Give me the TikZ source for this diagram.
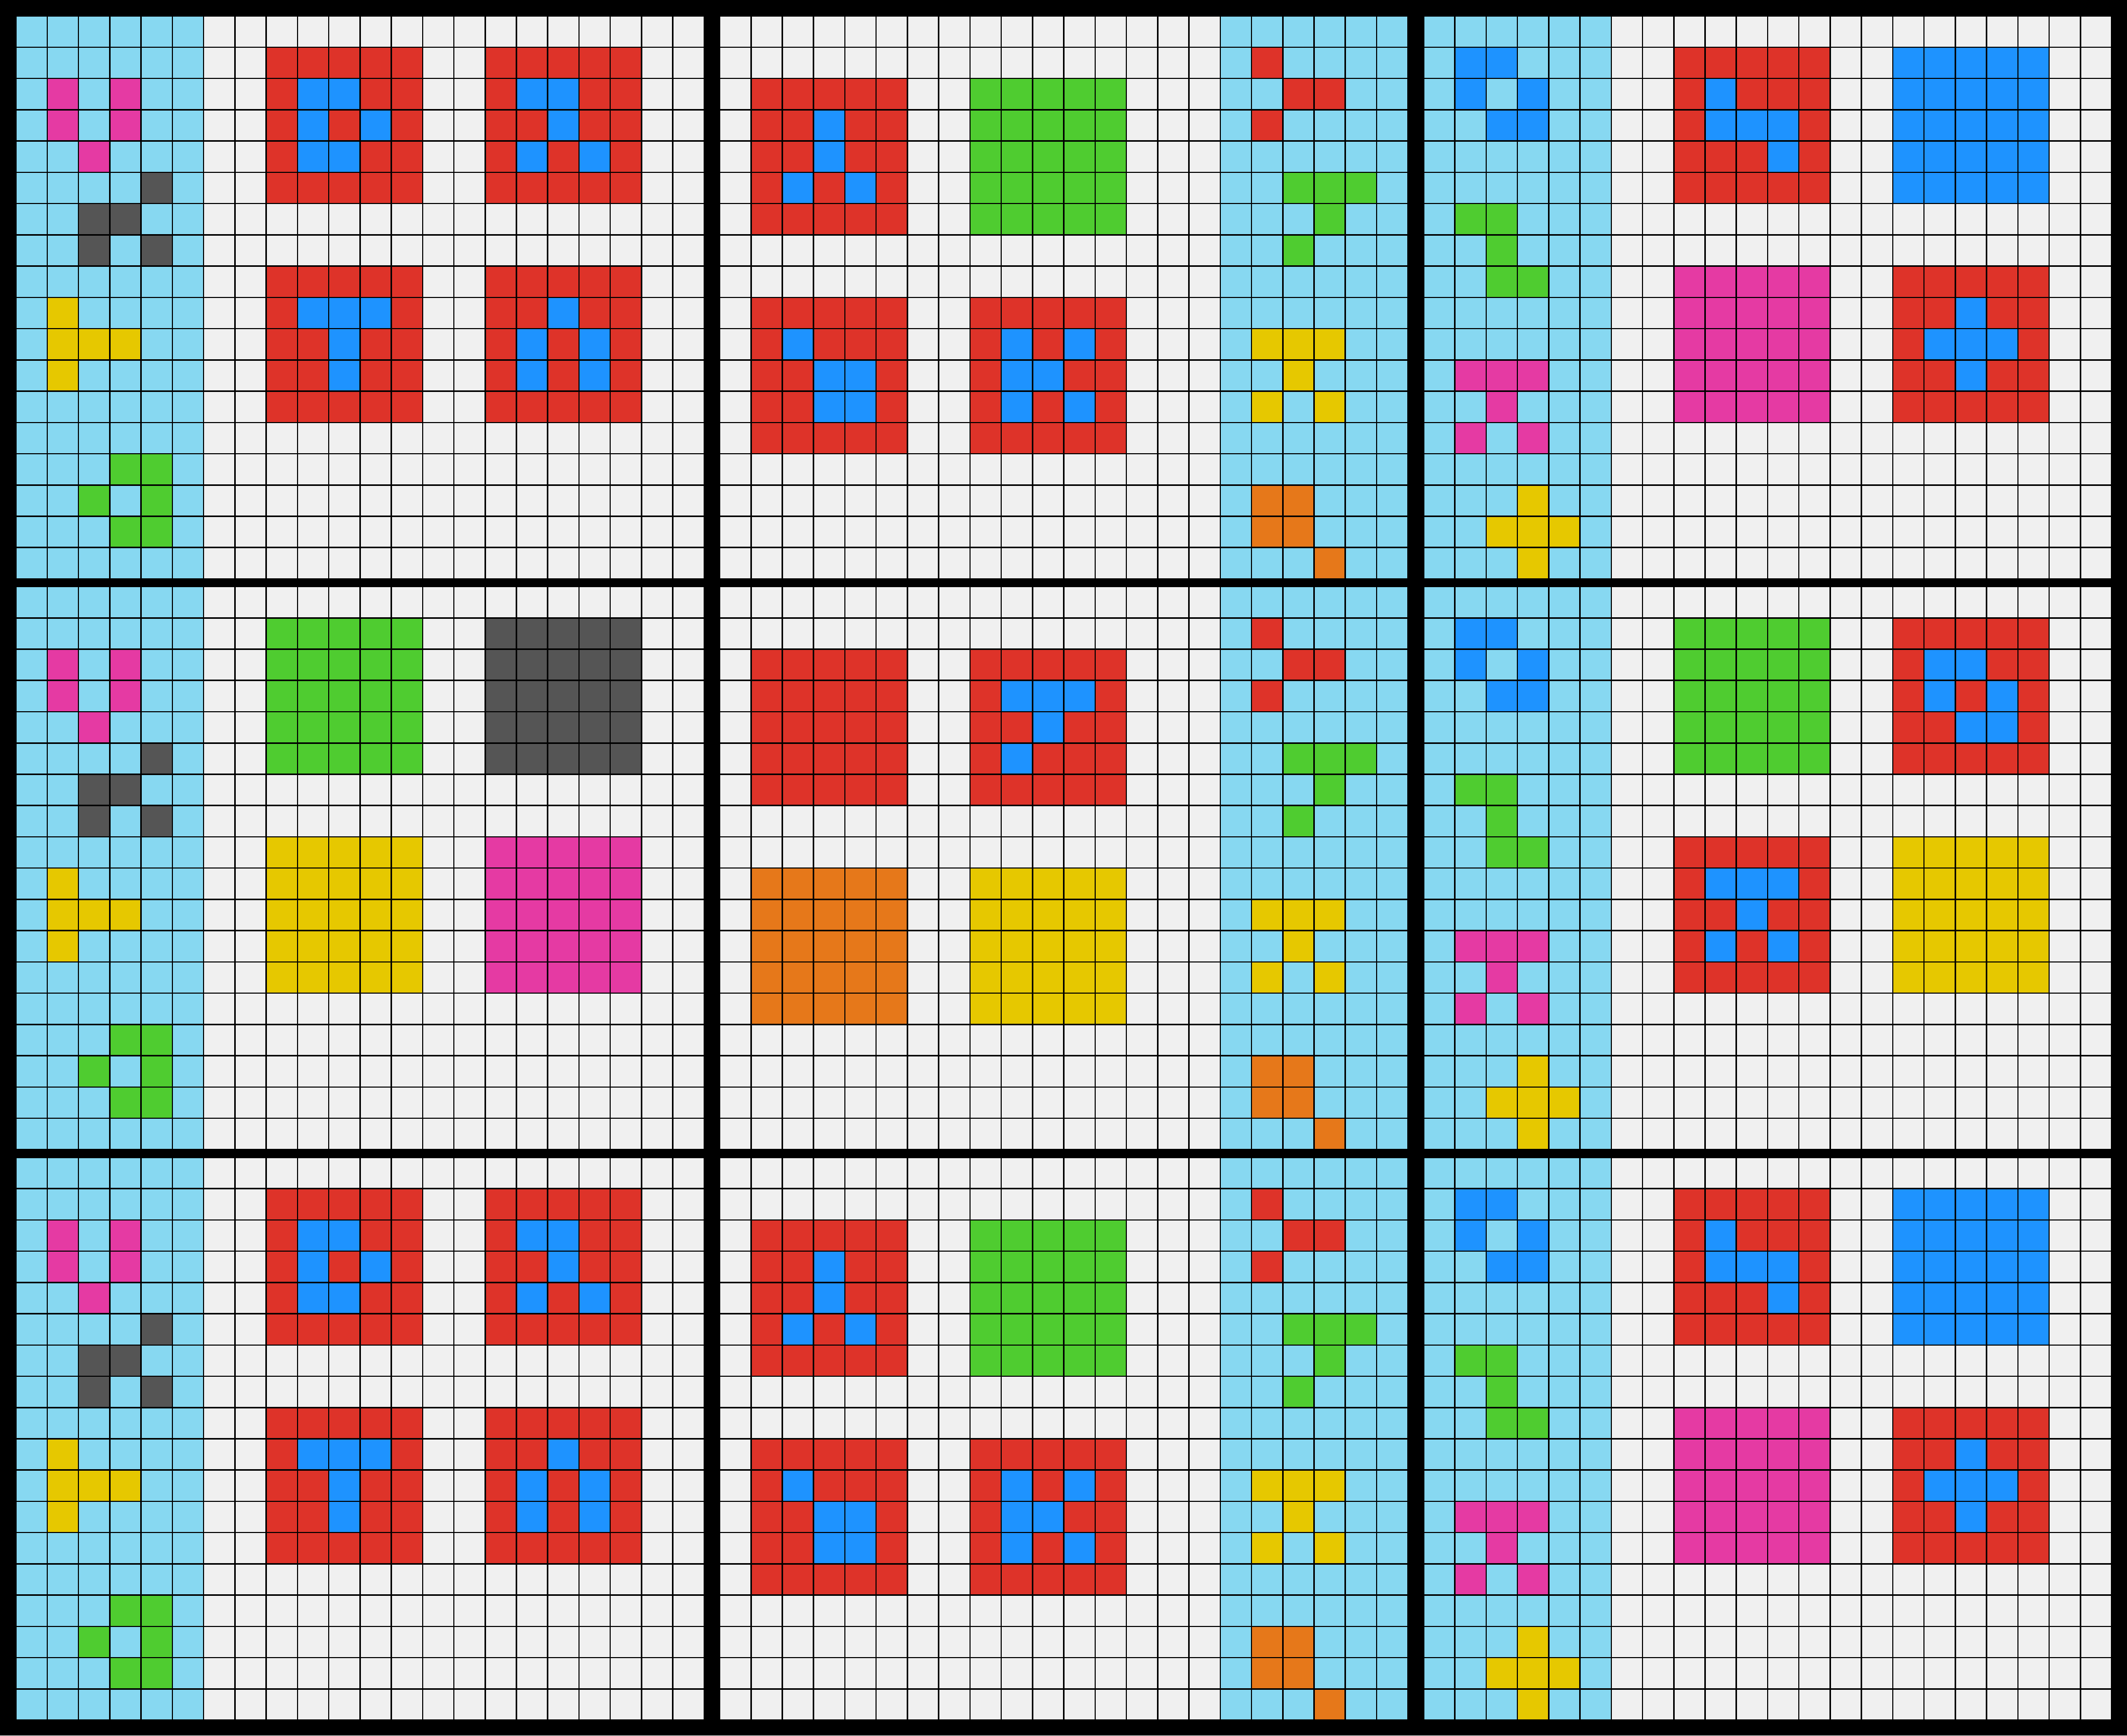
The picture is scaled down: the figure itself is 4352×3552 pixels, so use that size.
\documentclass[tikz,border=0pt]{standalone}
\definecolor{cola}{HTML}{87D8F1}
\definecolor{colw}{HTML}{F0F0F0}
\definecolor{colr}{HTML}{DE3329}
\definecolor{colb}{HTML}{1E93FF}
\definecolor{colg}{HTML}{4FCC30}
\definecolor{coly}{HTML}{E6C800}
\definecolor{colk}{HTML}{555555}
\definecolor{colp}{HTML}{E53AA3}
\definecolor{colo}{HTML}{E6781A}
\newcount\colidx
\def\gridrow#1#2#3{\colidx=0 \def\rx{#1}\def\ry{#2}\expandafter\gridparse#3\relax}
\def\gridparse#1{\ifx#1\relax\else\fill[col#1] ({\rx+64*\the\colidx},\ry) rectangle ++(61.3,61.3);\advance\colidx by 1 \expandafter\gridparse\fi}
\newcommand\panel[3]{\foreach \s [count=\i from 0] in #3 {\pgfmathsetmacro\rowy{#2+64*\i}\gridrow{#1}{\rowy}{\s}}}
% left panels
\def\PAone{{aaaaaa wwww wwww wwww wwww},
{aaaaaa ww rrrrr ww rrrrr ww},
{apapaa ww rbbrr ww rbbrr ww},
{apapaa ww rbrbr ww rrbrr ww},
{aapaaa ww rbbrr ww rbrbr ww},
{aaaaka ww rrrrr ww rrrrr ww},
{aakkaa wwww wwww wwww wwww},
{aakaka wwww wwww wwww wwww},
{aaaaaa ww rrrrr ww rrrrr ww},
{ayaaaa ww rbbbr ww rrbrr ww},
{ayyyaa ww rrbrr ww rbrbr ww},
{ayaaaa ww rrbrr ww rbrbr ww},
{aaaaaa ww rrrrr ww rrrrr ww},
{aaaaaa wwww wwww wwww wwww},
{aaagga wwww wwww wwww wwww},
{aagaga wwww wwww wwww wwww},
{aaagga wwww wwww wwww wwww},
{aaaaaa wwww wwww wwww wwww}}
\def\PAtwo{{aaaaaa wwww wwww wwww wwww},
{aaaaaa ww ggggg ww kkkkk ww},
{apapaa ww ggggg ww kkkkk ww},
{apapaa ww ggggg ww kkkkk ww},
{aapaaa ww ggggg ww kkkkk ww},
{aaaaka ww ggggg ww kkkkk ww},
{aakkaa wwww wwww wwww wwww},
{aakaka wwww wwww wwww wwww},
{aaaaaa ww yyyyy ww ppppp ww},
{ayaaaa ww yyyyy ww ppppp ww},
{ayyyaa ww yyyyy ww ppppp ww},
{ayaaaa ww yyyyy ww ppppp ww},
{aaaaaa ww yyyyy ww ppppp ww},
{aaaaaa wwww wwww wwww wwww},
{aaagga wwww wwww wwww wwww},
{aagaga wwww wwww wwww wwww},
{aaagga wwww wwww wwww wwww},
{aaaaaa wwww wwww wwww wwww}}
% middle panels
\def\PBone{{wwww wwww wwww wwww aaaaaa},
{wwww wwww wwww wwww araaaa},
{w rrrrr ww ggggg www aarraa},
{w rrbrr ww ggggg www araaaa},
{w rrbrr ww ggggg www aaaaaa},
{w rbrbr ww ggggg www aaggga},
{w rrrrr ww ggggg www aaagaa},
{wwww wwww wwww wwww aagaaa},
{wwww wwww wwww wwww aaaaaa},
{w rrrrr ww rrrrr www aaaaaa},
{w rbrrr ww rbrbr www ayyyaa},
{w rrbbr ww rbbrr www aayaaa},
{w rrbbr ww rbrbr www ayayaa},
{w rrrrr ww rrrrr www aaaaaa},
{wwww wwww wwww wwww aaaaaa},
{wwww wwww wwww wwww aooaaa},
{wwww wwww wwww wwww aooaaa},
{wwww wwww wwww wwww aaaoaa}}
\def\PBtwo{{wwww wwww wwww wwww aaaaaa},
{wwww wwww wwww wwww araaaa},
{w rrrrr ww rrrrr www aarraa},
{w rrrrr ww rbbbr www araaaa},
{w rrrrr ww rrbrr www aaaaaa},
{w rrrrr ww rbrrr www aaggga},
{w rrrrr ww rrrrr www aaagaa},
{wwww wwww wwww wwww aagaaa},
{wwww wwww wwww wwww aaaaaa},
{w ooooo ww yyyyy www aaaaaa},
{w ooooo ww yyyyy www ayyyaa},
{w ooooo ww yyyyy www aayaaa},
{w ooooo ww yyyyy www ayayaa},
{w ooooo ww yyyyy www aaaaaa},
{wwww wwww wwww wwww aaaaaa},
{wwww wwww wwww wwww aooaaa},
{wwww wwww wwww wwww aooaaa},
{wwww wwww wwww wwww aaaoaa}}
% right panels
\def\PCone{{aaaaaa wwww wwww wwww wwww},
{abbaaa ww rrrrr ww bbbbb ww},
{ababaa ww rbrrr ww bbbbb ww},
{aabbaa ww rbbbr ww bbbbb ww},
{aaaaaa ww rrrbr ww bbbbb ww},
{aaaaaa ww rrrrr ww bbbbb ww},
{aggaaa wwww wwww wwww wwww},
{aagaaa wwww wwww wwww wwww},
{aaggaa ww ppppp ww rrrrr ww},
{aaaaaa ww ppppp ww rrbrr ww},
{aaaaaa ww ppppp ww rbbbr ww},
{apppaa ww ppppp ww rrbrr ww},
{aapaaa ww ppppp ww rrrrr ww},
{apapaa wwww wwww wwww wwww},
{aaaaaa wwww wwww wwww wwww},
{aaayaa wwww wwww wwww wwww},
{aayyya wwww wwww wwww wwww},
{aaayaa wwww wwww wwww wwww}}
\def\PCtwo{{aaaaaa wwww wwww wwww wwww},
{abbaaa ww ggggg ww rrrrr ww},
{ababaa ww ggggg ww rbbrr ww},
{aabbaa ww ggggg ww rbrbr ww},
{aaaaaa ww ggggg ww rrbbr ww},
{aaaaaa ww ggggg ww rrrrr ww},
{aggaaa wwww wwww wwww wwww},
{aagaaa wwww wwww wwww wwww},
{aaggaa ww rrrrr ww yyyyy ww},
{aaaaaa ww rbbbr ww yyyyy ww},
{aaaaaa ww rrbrr ww yyyyy ww},
{apppaa ww rbrbr ww yyyyy ww},
{aapaaa ww rrrrr ww yyyyy ww},
{apapaa wwww wwww wwww wwww},
{aaaaaa wwww wwww wwww wwww},
{aaayaa wwww wwww wwww wwww},
{aayyya wwww wwww wwww wwww},
{aaayaa wwww wwww wwww wwww}}
\begin{document}
\begin{tikzpicture}[x=0.1mm,y=-0.1mm]
\useasboundingbox (0,0) rectangle (4352,3552);
\fill[black] (0,0) rectangle (4352,3552);
\panel{34}{34}{\PAone}
\panel{1474}{34}{\PBone}
\panel{2914}{34}{\PCone}
\panel{34}{1202}{\PAtwo}
\panel{1474}{1202}{\PBtwo}
\panel{2914}{1202}{\PCtwo}
\panel{34}{2370}{\PAone}
\panel{1474}{2370}{\PBone}
\panel{2914}{2370}{\PCone}
\end{tikzpicture}
\end{document}
